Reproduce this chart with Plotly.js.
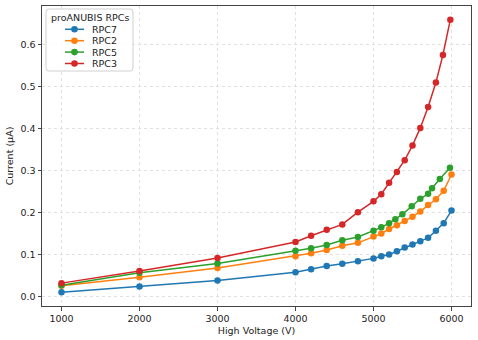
<!DOCTYPE html>
<html>
<head>
<meta charset="utf-8">
<script src="https://cdn.plot.ly/plotly-3.0.1.min.js"></script>
<style>
  html, body { margin: 0; padding: 0; background: #fff; }
  #chart { width: 478px; height: 340px; }
</style>
</head>
<body>
<div id="chart"></div>
<script>
// HV points (V) and currents (uA) per RPC
var hvRPC7 = [1000, 2000, 3000, 4000, 4200, 4400, 4600, 4800, 5000, 5100, 5200, 5300, 5400, 5500, 5600, 5700, 5800, 5900, 6000];
var iRPC7  = [0.010, 0.024, 0.038, 0.058, 0.065, 0.073, 0.078, 0.084, 0.091, 0.096, 0.100, 0.108, 0.117, 0.124, 0.132, 0.140, 0.157, 0.175, 0.205];

var hvRPC2 = [1000, 2000, 3000, 4000, 4200, 4400, 4600, 4800, 5000, 5100, 5200, 5300, 5400, 5500, 5600, 5700, 5800, 5900, 6000];
var iRPC2  = [0.026, 0.046, 0.068, 0.096, 0.103, 0.111, 0.121, 0.128, 0.143, 0.150, 0.161, 0.170, 0.180, 0.190, 0.203, 0.218, 0.232, 0.252, 0.291];

var hvRPC5 = [1000, 2000, 3000, 4000, 4200, 4400, 4600, 4800, 5000, 5100, 5200, 5280, 5370, 5490, 5600, 5700, 5750, 5850, 5980];
var iRPC5  = [0.027, 0.057, 0.079, 0.109, 0.115, 0.123, 0.134, 0.142, 0.157, 0.165, 0.175, 0.184, 0.196, 0.215, 0.233, 0.245, 0.258, 0.280, 0.307];

var hvRPC3 = [1000, 2000, 3000, 4000, 4200, 4400, 4600, 4800, 5000, 5100, 5200, 5300, 5400, 5500, 5600, 5700, 5800, 5890, 5985];
var iRPC3  = [0.032, 0.061, 0.092, 0.130, 0.145, 0.159, 0.172, 0.201, 0.227, 0.244, 0.271, 0.297, 0.325, 0.360, 0.402, 0.452, 0.510, 0.576, 0.660];

var names  = ['RPC7', 'RPC2', 'RPC5', 'RPC3'];
var colors = ['#1f77b4', '#ff7f0e', '#2ca02c', '#d62728'];
var xs = [hvRPC7, hvRPC2, hvRPC5, hvRPC3];
var ys = [iRPC7, iRPC2, iRPC5, iRPC3];
var legendTitle = 'proANUBIS RPCs';

var W = 478, H = 340;
var M = {l: 42, r: 7, t: 6, b: 34};
// pixel -> paper coords (for the matplotlib-style compact legend)
function px(x) { return (x - M.l) / (W - M.l - M.r); }
function py(y) { return (H - M.b - y) / (H - M.t - M.b); }

var font = {family: 'DejaVu Sans, sans-serif', size: 9.5, color: '#222'};

var data = [];
for (var i = 0; i < names.length; i++) {
    data.push({
        x: xs[i],
        y: ys[i],
        name: names[i],
        type: 'scatter',
        mode: 'lines+markers',
        line: {color: colors[i], width: 1.5},
        marker: {color: colors[i], size: 6.5, symbol: 'circle'}
    });
}

// legend box (rounded), title, and entries
var bx0 = 46, bx1 = 133, by0 = 9, by1 = 71, r = 3;
var boxPath = 'M' + px(bx0 + r) + ',' + py(by0) +
    ' L' + px(bx1 - r) + ',' + py(by0) + ' Q' + px(bx1) + ',' + py(by0) + ' ' + px(bx1) + ',' + py(by0 + r) +
    ' L' + px(bx1) + ',' + py(by1 - r) + ' Q' + px(bx1) + ',' + py(by1) + ' ' + px(bx1 - r) + ',' + py(by1) +
    ' L' + px(bx0 + r) + ',' + py(by1) + ' Q' + px(bx0) + ',' + py(by1) + ' ' + px(bx0) + ',' + py(by1 - r) +
    ' L' + px(bx0) + ',' + py(by0 + r) + ' Q' + px(bx0) + ',' + py(by0) + ' ' + px(bx0 + r) + ',' + py(by0) + ' Z';

var shapes = [{
    type: 'path', xref: 'paper', yref: 'paper', path: boxPath,
    fillcolor: 'rgba(255,255,255,0.85)', line: {color: '#d0d0d0', width: 1}
}];
var annotations = [{
    xref: 'paper', yref: 'paper', x: px(89.5), y: py(17.5),
    xanchor: 'center', yanchor: 'middle', showarrow: false,
    text: legendTitle, font: font
}];
for (var k = 0; k < names.length; k++) {
    var ey = 29.3 + k * 11.4;
    shapes.push({
        type: 'line', xref: 'paper', yref: 'paper',
        x0: px(65), x1: px(84), y0: py(ey), y1: py(ey),
        line: {color: colors[k], width: 1.5}
    });
    shapes.push({
        type: 'circle', xref: 'paper', yref: 'paper',
        xsizemode: 'pixel', ysizemode: 'pixel',
        xanchor: px(74.5), yanchor: py(ey),
        x0: -3.3, x1: 3.3, y0: -3.3, y1: 3.3,
        fillcolor: colors[k], line: {color: colors[k], width: 0}
    });
    annotations.push({
        xref: 'paper', yref: 'paper', x: px(90), y: py(ey),
        xanchor: 'left', yanchor: 'middle', showarrow: false,
        text: names[k], font: font
    });
}

var axisStyle = {
    showline: true, mirror: true, linecolor: '#444', linewidth: 1,
    ticks: 'outside', ticklen: 3.5, tickcolor: '#444', tickwidth: 1,
    showgrid: true, gridcolor: '#d9d9d9', griddash: 'dot', gridwidth: 0.8,
    zeroline: false,
    tickfont: font
};

var layout = {
    width: W,
    height: H,
    margin: M,
    paper_bgcolor: '#fff',
    plot_bgcolor: '#fff',
    font: font,
    showlegend: false,
    xaxis: Object.assign({}, axisStyle, {
        range: [750, 6250],
        tickvals: [1000, 2000, 3000, 4000, 5000, 6000],
        title: {text: 'High Voltage (V)', font: font, standoff: 4}
    }),
    yaxis: Object.assign({}, axisStyle, {
        range: [-0.0225, 0.6925],
        tickvals: [0, 0.1, 0.2, 0.3, 0.4, 0.5, 0.6],
        tickformat: '.1f',
        title: {text: 'Current (μA)', font: font, standoff: 5}
    }),
    shapes: shapes,
    annotations: annotations
};

Plotly.newPlot('chart', data, layout, {displayModeBar: false, staticPlot: true});
</script>
</body>
</html>
